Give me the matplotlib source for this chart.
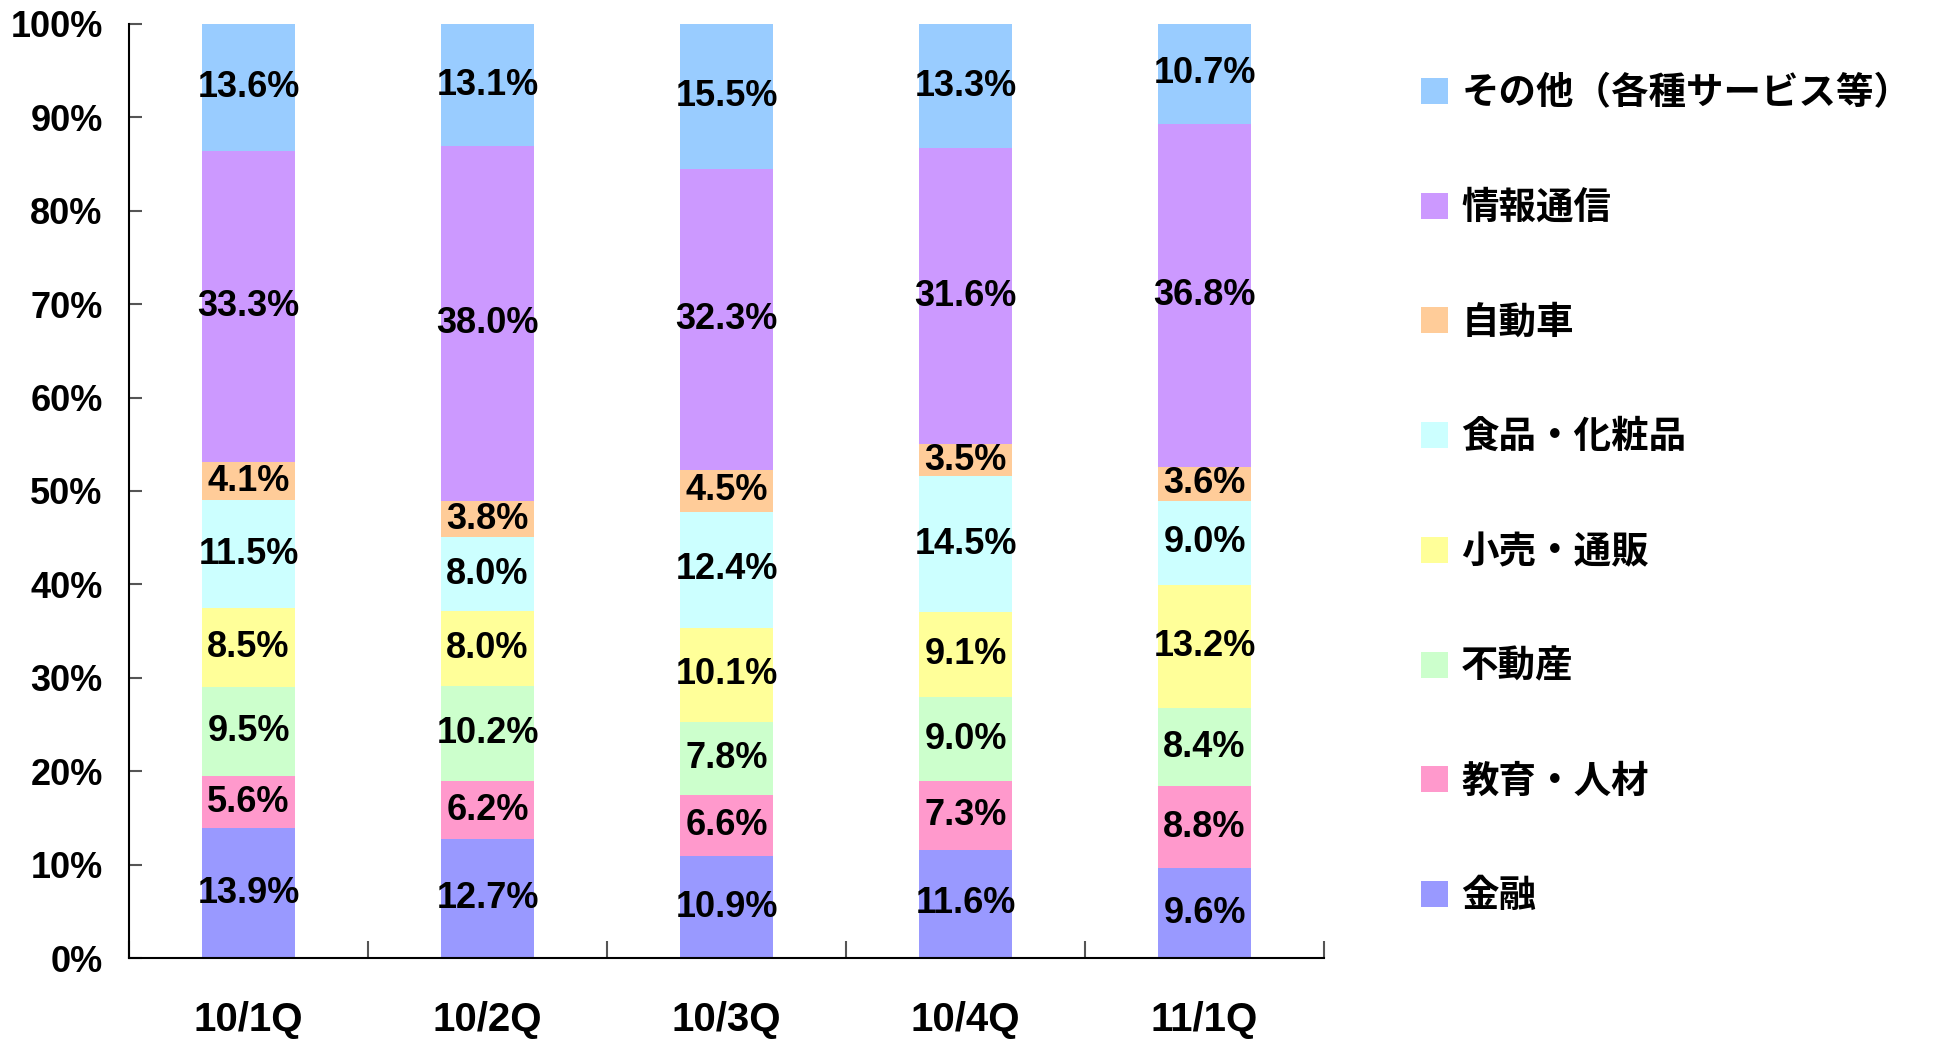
import matplotlib

matplotlib.use("Agg")

import matplotlib.pyplot as plt
import numpy as np
from matplotlib.patches import Patch
from matplotlib.ticker import FixedLocator

plt.rcParams["font.family"] = ["Liberation Sans", "Noto Sans CJK JP", "DejaVu Sans"]
plt.rcParams["font.weight"] = "bold"

quarters = ["10/1Q", "10/2Q", "10/3Q", "10/4Q", "11/1Q"]
sectors = ["金融", "教育・人材", "不動産", "小売・通販", "食品・化粧品", "自動車", "情報通信", "その他（各種サービス等）"]
colors = ["#9999FF", "#FF99CC", "#CCFFCC", "#FFFF99", "#CCFFFF", "#FFCC99", "#CC99FF", "#99CCFF"]

finance = [13.9, 12.7, 10.9, 11.6, 9.6]
education = [5.6, 6.2, 6.6, 7.3, 8.8]
real_estate = [9.5, 10.2, 7.8, 9.0, 8.4]
retail = [8.5, 8.0, 10.1, 9.1, 13.2]
food = [11.5, 8.0, 12.4, 14.5, 9.0]
auto = [4.1, 3.8, 4.5, 3.5, 3.6]
telecom = [33.3, 38.0, 32.3, 31.6, 36.8]
other = [13.6, 13.1, 15.5, 13.3, 10.7]

series = np.array([finance, education, real_estate, retail, food, auto, telecom, other])
# 100% stacked: normalise each quarter so the columns reach exactly 100%
shares = series / series.sum(axis=0) * 100

fig = plt.figure(figsize=(19.44, 10.42), dpi=100, facecolor="white")
ax = fig.add_axes((0.0664, 0.0806, 0.6147, 0.8964))

x = np.arange(len(quarters))
bottom = np.zeros(len(quarters))
for values, raw, color, name in zip(shares, series, colors, sectors):
    bars = ax.bar(x, values, 0.39, bottom=bottom, color=color, label=name, linewidth=0)
    ax.bar_label(bars, labels=[f"{v:.1f}%" for v in raw], label_type="center",
                 fontsize=26, fontweight="bold", color="black")
    bottom += values

ax.set_xlim(-0.5, len(quarters) - 0.5)
ax.set_ylim(0, 100)
ax.set_yticks(np.arange(0, 101, 10), [f"{v}%" for v in range(0, 101, 10)])
ax.set_xticks(x, quarters)
ax.xaxis.set_minor_locator(FixedLocator(np.arange(-0.5, len(quarters), 1.0)))

ax.spines["top"].set_visible(False)
ax.spines["right"].set_visible(False)
ax.spines["left"].set_linewidth(1.5)
ax.spines["bottom"].set_linewidth(1.5)

ax.tick_params(axis="y", direction="in", length=9, width=1.5, color="#555555",
               labelsize=26, pad=19)
ax.tick_params(axis="x", which="major", length=0, labelsize=29, pad=31)
ax.tick_params(axis="x", which="minor", direction="in", length=12, width=1.5,
               color="#555555")
for label in ax.get_xticklabels() + ax.get_yticklabels():
    label.set_fontweight("bold")

handles = [Patch(facecolor=c, edgecolor="none", label=s) for c, s in zip(colors, sectors)]
fig.legend(handles[::-1], sectors[::-1], loc="upper left",
           bbox_to_anchor=(0.731, 0.927), frameon=False, fontsize=27,
           handlelength=0.72, handleheight=0.69, handletextpad=0.35,
           labelspacing=2.10, borderaxespad=0, borderpad=0)

fig.savefig("out.png", dpi=100, facecolor="white")
